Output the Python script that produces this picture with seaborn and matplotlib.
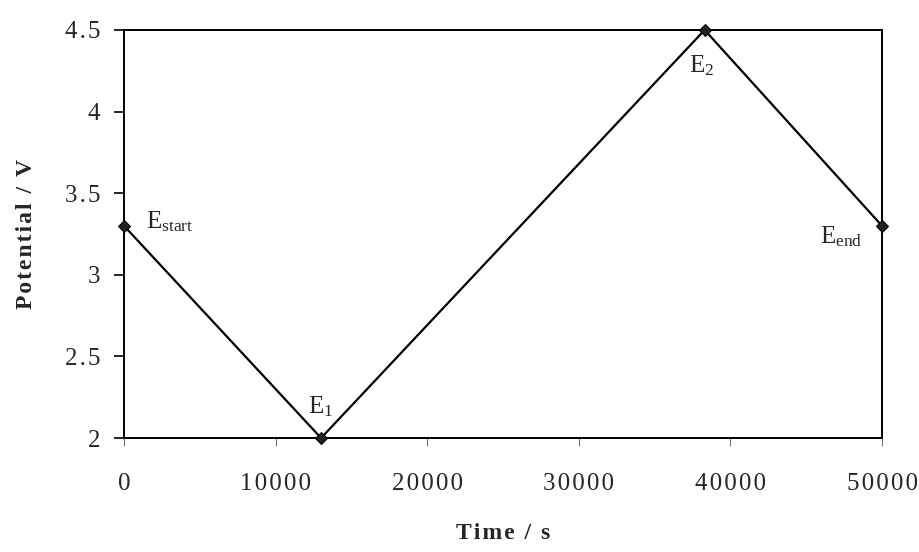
import matplotlib
matplotlib.use("Agg")
import matplotlib.pyplot as plt
import seaborn as sns
import pandas as pd

# Potential step profile of the cycling experiment
time_s = [0, 13000, 38300, 50000]
potential_v = [3.3, 2.0, 4.5, 3.3]
point_labels = [r"E$_{\mathrm{start}}$", r"E$_{\mathrm{1}}$", r"E$_{\mathrm{2}}$", r"E$_{\mathrm{end}}$"]
x_ticks = [0, 10000, 20000, 30000, 40000, 50000]
y_ticks = [2, 2.5, 3, 3.5, 4, 4.5]
y_tick_labels = ["2", "2.5", "3", "3.5", "4", "4.5"]


def spaced(text, gap="\u200a"):
    """Open up the tracking of a label slightly."""
    return gap.join(text)


sns.set_style("white")
plt.rcParams["font.family"] = ["Liberation Serif", "DejaVu Serif"]
plt.rcParams["mathtext.fontset"] = "custom"
plt.rcParams["mathtext.rm"] = "Liberation Serif"
plt.rcParams["mathtext.it"] = "Liberation Serif:italic"

df = pd.DataFrame({"Time": time_s, "Potential": potential_v})

fig = plt.figure(figsize=(9.2, 5.52), dpi=100)
ax = fig.add_axes([0.1348, 0.2065, 0.8239, 0.7392])

sns.lineplot(data=df, x="Time", y="Potential", ax=ax, color="black",
             linewidth=1.6, marker="D", markersize=6.5, markeredgecolor="black",
             markerfacecolor="#222222", clip_on=False, zorder=5)

ax.set_xlim(0, 50000)
ax.set_ylim(2, 4.5)
ax.set_xticks(x_ticks)
ax.set_xticklabels([spaced(str(t)) for t in x_ticks])
ax.set_yticks(y_ticks)
ax.set_yticklabels([spaced(t) for t in y_tick_labels])

for side in ["left", "right", "top", "bottom"]:
    ax.spines[side].set_visible(True)
    ax.spines[side].set_color("black")
    ax.spines[side].set_linewidth(1.4)

ax.tick_params(axis="y", which="major", direction="out", length=7, width=1.2,
               color="black", labelsize=18, pad=10, left=True)
ax.tick_params(axis="x", which="major", direction="out", length=6, width=0.8,
               color="#777777", labelsize=18, pad=19, bottom=True)

ax.set_xlabel(spaced("Time / s"), fontsize=17, fontweight="bold", labelpad=20)
ax.set_ylabel(spaced("Potential / V"), fontsize=17, fontweight="bold", labelpad=20)

# Labels beside each turning point
offsets = [(16, 3, "left", "center"), (0, 14, "center", "bottom"),
           (-2, -17, "center", "top"), (-14, -8, "right", "center")]
for x, y, lab, (dx, dy, ha, va) in zip(time_s, potential_v, point_labels, offsets):
    ax.annotate(lab, (x, y), xytext=(dx, dy), textcoords="offset points",
                ha=ha, va=va, fontsize=18)

fig.savefig("out.png", dpi=100, facecolor="white")
